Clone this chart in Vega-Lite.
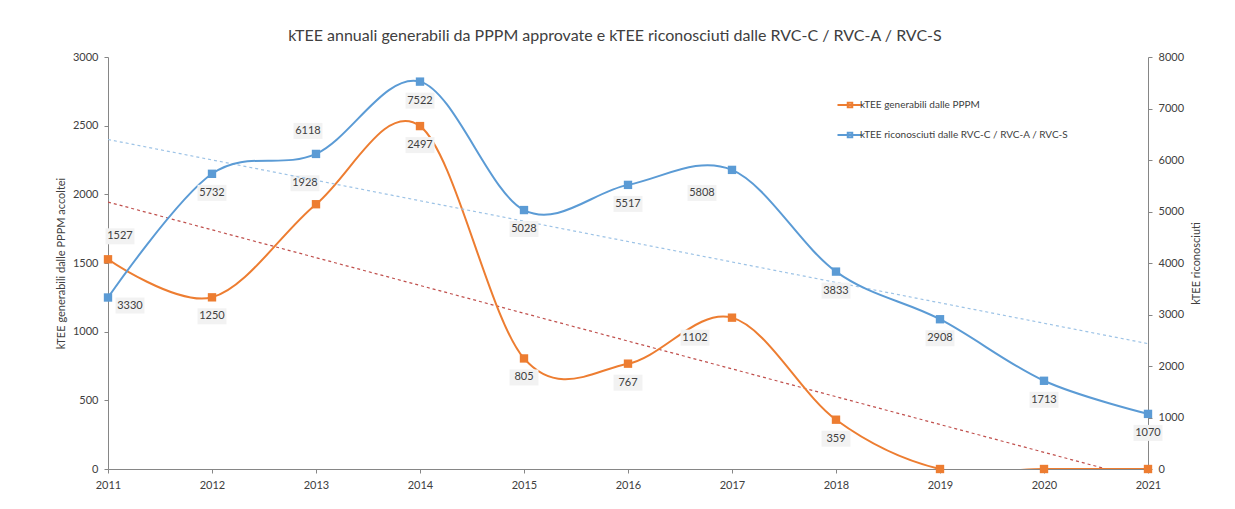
{
  "$schema": "https://vega.github.io/schema/vega-lite/v6.json",
  "width": 1040,
  "height": 412,
  "autosize": {"type": "none"},
  "padding": {"left": 108, "top": 57, "right": 87, "bottom": 40},
  "background": "white",
  "config": {
    "view": {"stroke": null},
    "font": "Lato",
    "axis": {
      "grid": false,
      "domainColor": "#868686",
      "tickColor": "#868686",
      "labelColor": "#404040",
      "labelFont": "Lato",
      "labelFontSize": 11,
      "titleFont": "Lato",
      "titleFontSize": 11,
      "titleFontWeight": "normal",
      "titleColor": "#404040",
      "tickSize": 4
    }
  },
  "title": {
    "text": "kTEE annuali generabili da PPPM approvate e kTEE riconosciuti dalle RVC-C / RVC-A / RVC-S",
    "font": "Lato",
    "fontSize": 16,
    "fontWeight": "normal",
    "color": "#404040",
    "anchor": "middle",
    "frame": "group",
    "dx": -13,
    "offset": 7
  },
  "datasets": {
    "main": [
      {"year": 2011, "series": "kTEE generabili dalle PPPM", "value": 1527},
      {"year": 2012, "series": "kTEE generabili dalle PPPM", "value": 1250},
      {"year": 2013, "series": "kTEE generabili dalle PPPM", "value": 1928},
      {"year": 2014, "series": "kTEE generabili dalle PPPM", "value": 2497},
      {"year": 2015, "series": "kTEE generabili dalle PPPM", "value": 805},
      {"year": 2016, "series": "kTEE generabili dalle PPPM", "value": 767},
      {"year": 2017, "series": "kTEE generabili dalle PPPM", "value": 1102},
      {"year": 2018, "series": "kTEE generabili dalle PPPM", "value": 359},
      {"year": 2019, "series": "kTEE generabili dalle PPPM", "value": 0},
      {"year": 2020, "series": "kTEE generabili dalle PPPM", "value": 0},
      {"year": 2021, "series": "kTEE generabili dalle PPPM", "value": 0},
      {"year": 2011, "series": "kTEE riconosciuti dalle RVC-C / RVC-A / RVC-S", "value": 3330},
      {"year": 2012, "series": "kTEE riconosciuti dalle RVC-C / RVC-A / RVC-S", "value": 5732},
      {"year": 2013, "series": "kTEE riconosciuti dalle RVC-C / RVC-A / RVC-S", "value": 6118},
      {"year": 2014, "series": "kTEE riconosciuti dalle RVC-C / RVC-A / RVC-S", "value": 7522},
      {"year": 2015, "series": "kTEE riconosciuti dalle RVC-C / RVC-A / RVC-S", "value": 5028},
      {"year": 2016, "series": "kTEE riconosciuti dalle RVC-C / RVC-A / RVC-S", "value": 5517},
      {"year": 2017, "series": "kTEE riconosciuti dalle RVC-C / RVC-A / RVC-S", "value": 5808},
      {"year": 2018, "series": "kTEE riconosciuti dalle RVC-C / RVC-A / RVC-S", "value": 3833},
      {"year": 2019, "series": "kTEE riconosciuti dalle RVC-C / RVC-A / RVC-S", "value": 2908},
      {"year": 2020, "series": "kTEE riconosciuti dalle RVC-C / RVC-A / RVC-S", "value": 1713},
      {"year": 2021, "series": "kTEE riconosciuti dalle RVC-C / RVC-A / RVC-S", "value": 1070}
    ],
    "redtrend": [
      {"year": 2011, "trend": 1944},
      {"year": 2021, "trend": -81}
    ]
  },
  "data": {"name": "main"},
  "encoding": {
    "x": {
      "field": "year",
      "type": "quantitative",
      "scale": {"domain": [2011, 2021], "nice": false, "zero": false},
      "axis": {
        "title": null,
        "values": [2011, 2012, 2013, 2014, 2015, 2016, 2017, 2018, 2019, 2020, 2021],
        "format": "d",
        "labelPadding": 6,
        "labelFlush": false
      }
    }
  },
  "layer": [
    {
      "encoding": {
        "y": {
          "field": "value",
          "type": "quantitative",
          "scale": {"domain": [0, 3000], "nice": false},
          "axis": {
            "orient": "left",
            "title": "kTEE generabili dalle PPPM accoltei",
            "values": [0, 500, 1000, 1500, 2000, 2500, 3000],
            "format": "d",
            "titlePadding": 6,
            "labelPadding": 6
          }
        }
      },
      "layer": [
        {
          "data": {"name": "redtrend"},
          "mark": {"type": "line", "color": "#C0504D", "strokeDash": [3, 3], "strokeWidth": 1.2, "clip": true},
          "encoding": {"y": {"field": "trend", "type": "quantitative"}}
        },
        {
          "transform": [{"filter": "datum.series === 'kTEE generabili dalle PPPM'"}],
          "mark": {"type": "line", "strokeWidth": 2, "interpolate": "cardinal", "tension": 0, "clip": true},
          "encoding": {
            "color": {
              "field": "series",
              "type": "nominal",
              "scale": {"domain": ["kTEE generabili dalle PPPM", "kTEE riconosciuti dalle RVC-C / RVC-A / RVC-S"], "range": ["#ED7D31", "#5B9BD5"]},
              "legend": {
                "title": null,
                "orient": "none",
                "legendX": 736,
                "legendY": 42,
                "symbolType": "M-2.5,0H2.5M-0.45,-0.45H0.45V0.45H-0.45Z",
                "symbolSize": 100,
                "symbolStrokeWidth": 2,
                "labelFont": "Lato",
                "labelFontSize": 10,
                "labelColor": "#404040",
                "rowPadding": 16,
                "labelOffset": 4,
                "labelLimit": 400
              }
            }
          }
        },
        {
          "transform": [{"filter": "datum.series === 'kTEE generabili dalle PPPM'"}],
          "mark": {"type": "point", "shape": "square", "filled": true, "size": 70, "opacity": 1, "color": "#ED7D31"},
          "encoding": {}
        },
        {
          "transform": [{"filter": "datum.series === 'kTEE generabili dalle PPPM' && datum.value > 0"}],
          "mark": {
            "type": "rect",
            "color": "#F2F2F2",
            "width": 29,
            "height": 16,
            "xOffset": {"expr": "datum.year === 2011 ? 12 : datum.year === 2013 ? -11 : datum.year === 2017 ? -37 : 0"},
            "yOffset": {"expr": "datum.year === 2011 ? -23 : datum.year === 2013 ? -21 : datum.year === 2017 ? 20 : 19"}
          },
          "encoding": {"y": {"field": "value", "type": "quantitative"}}
        },
        {
          "transform": [{"filter": "datum.series === 'kTEE generabili dalle PPPM' && datum.value > 0"}],
          "mark": {
            "type": "text",
            "font": "Lato",
            "fontSize": 11,
            "color": "#404040",
            "align": "center",
            "baseline": "middle",
            "dx": {"expr": "datum.year === 2011 ? 12 : datum.year === 2013 ? -11 : datum.year === 2017 ? -37 : 0"},
            "dy": {"expr": "datum.year === 2011 ? -23 : datum.year === 2013 ? -21 : datum.year === 2017 ? 20 : 19"}
          },
          "encoding": {"text": {"field": "value", "type": "quantitative", "format": "d"}}
        }
      ]
    },
    {
      "encoding": {
        "y": {
          "field": "value",
          "type": "quantitative",
          "scale": {"domain": [0, 8000], "nice": false},
          "axis": {
            "orient": "right",
            "title": "kTEE riconosciuti",
            "titleAngle": 270,
            "values": [0, 1000, 2000, 3000, 4000, 5000, 6000, 7000, 8000],
            "format": "d",
            "titlePadding": 18,
            "labelPadding": 6
          }
        }
      },
      "layer": [
        {
          "transform": [
            {"filter": "datum.series === 'kTEE riconosciuti dalle RVC-C / RVC-A / RVC-S'"},
            {"regression": "value", "on": "year"}
          ],
          "mark": {"type": "line", "color": "#9DC3E6", "strokeDash": [3, 3], "strokeWidth": 1.2, "clip": true},
          "encoding": {}
        },
        {
          "transform": [{"filter": "datum.series === 'kTEE riconosciuti dalle RVC-C / RVC-A / RVC-S'"}],
          "mark": {"type": "line", "strokeWidth": 2, "interpolate": "cardinal", "tension": 0, "clip": true},
          "encoding": {"color": {"field": "series", "type": "nominal"}}
        },
        {
          "transform": [{"filter": "datum.series === 'kTEE riconosciuti dalle RVC-C / RVC-A / RVC-S'"}],
          "mark": {"type": "point", "shape": "square", "filled": true, "size": 70, "opacity": 1, "color": "#5B9BD5"},
          "encoding": {}
        },
        {
          "transform": [{"filter": "datum.series === 'kTEE riconosciuti dalle RVC-C / RVC-A / RVC-S'"}],
          "mark": {
            "type": "rect",
            "color": "#F2F2F2",
            "width": 29,
            "height": 16,
            "xOffset": {"expr": "datum.year === 2011 ? 22 : datum.year === 2013 ? -8 : datum.year === 2017 ? -30 : 0"},
            "yOffset": {"expr": "datum.year === 2011 ? 8 : datum.year === 2013 ? -23 : datum.year === 2017 ? 23 : 19"}
          },
          "encoding": {"y": {"field": "value", "type": "quantitative"}}
        },
        {
          "transform": [{"filter": "datum.series === 'kTEE riconosciuti dalle RVC-C / RVC-A / RVC-S'"}],
          "mark": {
            "type": "text",
            "font": "Lato",
            "fontSize": 11,
            "color": "#404040",
            "align": "center",
            "baseline": "middle",
            "dx": {"expr": "datum.year === 2011 ? 22 : datum.year === 2013 ? -8 : datum.year === 2017 ? -30 : 0"},
            "dy": {"expr": "datum.year === 2011 ? 8 : datum.year === 2013 ? -23 : datum.year === 2017 ? 23 : 19"}
          },
          "encoding": {"text": {"field": "value", "type": "quantitative", "format": "d"}}
        }
      ]
    }
  ],
  "resolve": {"scale": {"y": "independent"}}
}
